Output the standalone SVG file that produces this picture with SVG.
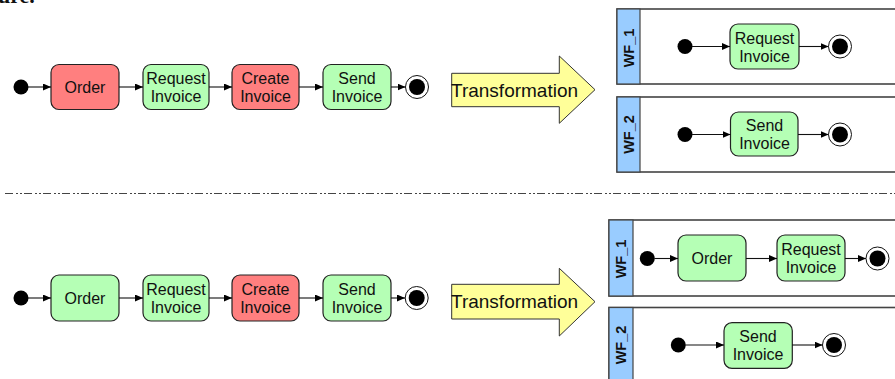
<svg xmlns="http://www.w3.org/2000/svg" width="895" height="379" viewBox="0 0 895 379">
<defs>
<marker id="ah" markerUnits="userSpaceOnUse" markerWidth="9" markerHeight="8" refX="8" refY="3.5" orient="auto"><path d="M0,0 L8,3.5 L0,7 z" fill="#000"/></marker>
</defs>
<style>
.red{fill:#ff7f7f;stroke:#222;stroke-width:1.2}
.green{fill:#b5ffb5;stroke:#222;stroke-width:1.2}
.t{font-family:"Liberation Sans",Arial,sans-serif;font-size:16px;fill:#111;text-anchor:middle}
.big{font-family:"Liberation Sans",Arial,sans-serif;font-size:19px;fill:#111}
.wf{font-family:"Liberation Sans",Arial,sans-serif;font-size:14.5px;font-weight:bold;fill:#111;text-anchor:middle}
.lane{fill:#fff;stroke:#444;stroke-width:1.6}
.hdr{fill:#99ccff;stroke:#444;stroke-width:1.2}
.c{stroke:#111;stroke-width:1.1;fill:none;marker-end:url(#ah)}
.arr{fill:#ffff99;stroke:#333;stroke-width:1}
</style>
<rect width="895" height="379" fill="#fff"/>
<text x="-2" y="3" font-family="Liberation Serif,serif" font-size="22" font-weight="bold" fill="#111">ure.</text>

<!-- separator -->
<line x1="5" y1="193.5" x2="895" y2="193.5" stroke="#444" stroke-width="1" stroke-dasharray="8,3,2,2,2,2"/>

<!-- top row -->
<g id="top-start"><circle cx="21" cy="87" r="7.5" fill="#000"/></g>
<g id="top-order"><rect class="red" x="51" y="64.5" width="68" height="45" rx="8"/><text class="t" x="85" y="93">Order</text></g>
<g id="top-request"><rect class="green" x="143" y="64.5" width="66" height="45" rx="8"/><text class="t" x="176" y="84">Request</text><text class="t" x="176" y="102">Invoice</text></g>
<g id="top-create"><rect class="red" x="232" y="64.5" width="67" height="45" rx="8"/><text class="t" x="265.5" y="84">Create</text><text class="t" x="265.5" y="102">Invoice</text></g>
<g id="top-send"><rect class="green" x="323" y="64.5" width="68" height="45" rx="8"/><text class="t" x="357" y="84">Send</text><text class="t" x="357" y="102">Invoice</text></g>
<g id="top-end"><circle cx="417" cy="87" r="11.5" fill="#fff" stroke="#111" stroke-width="1"/><circle cx="417" cy="87" r="8" fill="#000"/></g>

<g id="top-transform"><polygon class="arr" points="451.7,73.3 559.3,73.3 559.3,56 595,89.7 559.3,123.3 559.3,106.7 451.7,106.7"/><text class="big" x="451" y="97">Transformation</text></g>

<!-- top lanes -->
<g id="top-wf1">
<rect class="lane" x="617" y="9" width="300" height="75"/>
<rect class="hdr" x="617" y="9" width="23" height="75"/>
<text class="wf" transform="translate(634,48) rotate(-90)">WF_1</text>
<circle cx="685" cy="46.5" r="7.5" fill="#000"/>
<rect class="green" x="730" y="24" width="69" height="45" rx="8"/><text class="t" x="764.5" y="44">Request</text><text class="t" x="764.5" y="62">Invoice</text>
<circle cx="840" cy="46.5" r="11.5" fill="#fff" stroke="#111" stroke-width="1"/><circle cx="840" cy="46.5" r="8" fill="#000"/>
</g>
<g id="top-wf2">
<rect class="lane" x="617" y="97" width="300" height="75"/>
<rect class="hdr" x="617" y="97" width="23" height="75"/>
<text class="wf" transform="translate(634,134.5) rotate(-90)">WF_2</text>
<circle cx="685" cy="134.5" r="7.5" fill="#000"/>
<rect class="green" x="730.5" y="112" width="67.5" height="44" rx="8"/><text class="t" x="764.5" y="131">Send</text><text class="t" x="764.5" y="149">Invoice</text>
<circle cx="840" cy="134.5" r="11.5" fill="#fff" stroke="#111" stroke-width="1"/><circle cx="840" cy="134.5" r="8" fill="#000"/>
</g>

<!-- bottom row -->
<g id="bot-start"><circle cx="21" cy="298" r="7.5" fill="#000"/></g>
<g id="bot-order"><rect class="green" x="51" y="275" width="68" height="46" rx="8"/><text class="t" x="85" y="304">Order</text></g>
<g id="bot-request"><rect class="green" x="143" y="275" width="66" height="46" rx="8"/><text class="t" x="176" y="295">Request</text><text class="t" x="176" y="313">Invoice</text></g>
<g id="bot-create"><rect class="red" x="232" y="275" width="67" height="46" rx="8"/><text class="t" x="265.5" y="295">Create</text><text class="t" x="265.5" y="313">Invoice</text></g>
<g id="bot-send"><rect class="green" x="323" y="275" width="68" height="46" rx="8"/><text class="t" x="357" y="295">Send</text><text class="t" x="357" y="313">Invoice</text></g>
<g id="bot-end"><circle cx="416.7" cy="298" r="11.5" fill="#fff" stroke="#111" stroke-width="1"/><circle cx="416.7" cy="298" r="8" fill="#000"/></g>

<g id="bot-transform"><polygon class="arr" points="451.7,284.3 559.3,284.3 559.3,268.3 595,301.7 559.3,336 559.3,319 451.7,319"/><text class="big" x="451" y="308">Transformation</text></g>

<!-- bottom lanes -->
<g id="bot-wf1">
<rect class="lane" x="609" y="220" width="300" height="76"/>
<rect class="hdr" x="609" y="220" width="24" height="76"/>
<text class="wf" transform="translate(626,259) rotate(-90)">WF_1</text>
<circle cx="647.3" cy="258.5" r="7.5" fill="#000"/>
<rect class="green" x="678" y="235" width="68" height="46" rx="8"/><text class="t" x="712" y="264">Order</text>
<rect class="green" x="777" y="235" width="68" height="46" rx="8"/><text class="t" x="811" y="255">Request</text><text class="t" x="811" y="273">Invoice</text>
<circle cx="877.5" cy="258.5" r="11.5" fill="#fff" stroke="#111" stroke-width="1"/><circle cx="877.5" cy="258.5" r="8" fill="#000"/>
</g>
<g id="bot-wf2">
<rect class="lane" x="609" y="307.5" width="300" height="90"/>
<rect class="hdr" x="609" y="307.5" width="24" height="90"/>
<text class="wf" transform="translate(626,345) rotate(-90)">WF_2</text>
<circle cx="678.3" cy="345" r="7.5" fill="#000"/>
<rect class="green" x="724" y="322.7" width="68.3" height="45.6" rx="8"/><text class="t" x="758" y="342">Send</text><text class="t" x="758" y="360">Invoice</text>
<circle cx="834" cy="345" r="11.5" fill="#fff" stroke="#111" stroke-width="1"/><circle cx="834" cy="345" r="8" fill="#000"/>
</g>

<!-- connectors -->
<g id="connectors">
<line class="c" x1="28" y1="87" x2="51" y2="87"/>
<line class="c" x1="119" y1="87" x2="143" y2="87"/>
<line class="c" x1="209" y1="87" x2="232" y2="87"/>
<line class="c" x1="299" y1="87" x2="323" y2="87"/>
<line class="c" x1="391" y1="87" x2="405.5" y2="87"/>

<line class="c" x1="28" y1="298" x2="51" y2="298"/>
<line class="c" x1="119" y1="298" x2="143" y2="298"/>
<line class="c" x1="209" y1="298" x2="232" y2="298"/>
<line class="c" x1="299" y1="298" x2="323" y2="298"/>
<line class="c" x1="391" y1="298" x2="405" y2="298"/>

<line class="c" x1="692" y1="46.5" x2="730" y2="46.5"/>
<line class="c" x1="799" y1="46.5" x2="828.5" y2="46.5"/>
<line class="c" x1="692" y1="134.5" x2="730.5" y2="134.5"/>
<line class="c" x1="798" y1="134.5" x2="828.5" y2="134.5"/>

<line class="c" x1="654.5" y1="258.5" x2="678" y2="258.5"/>
<line class="c" x1="746" y1="258.5" x2="777" y2="258.5"/>
<line class="c" x1="845" y1="258.5" x2="866" y2="258.5"/>
<line class="c" x1="685.5" y1="345" x2="724" y2="345"/>
<line class="c" x1="792" y1="345" x2="822.5" y2="345"/>
</g>
</svg>
